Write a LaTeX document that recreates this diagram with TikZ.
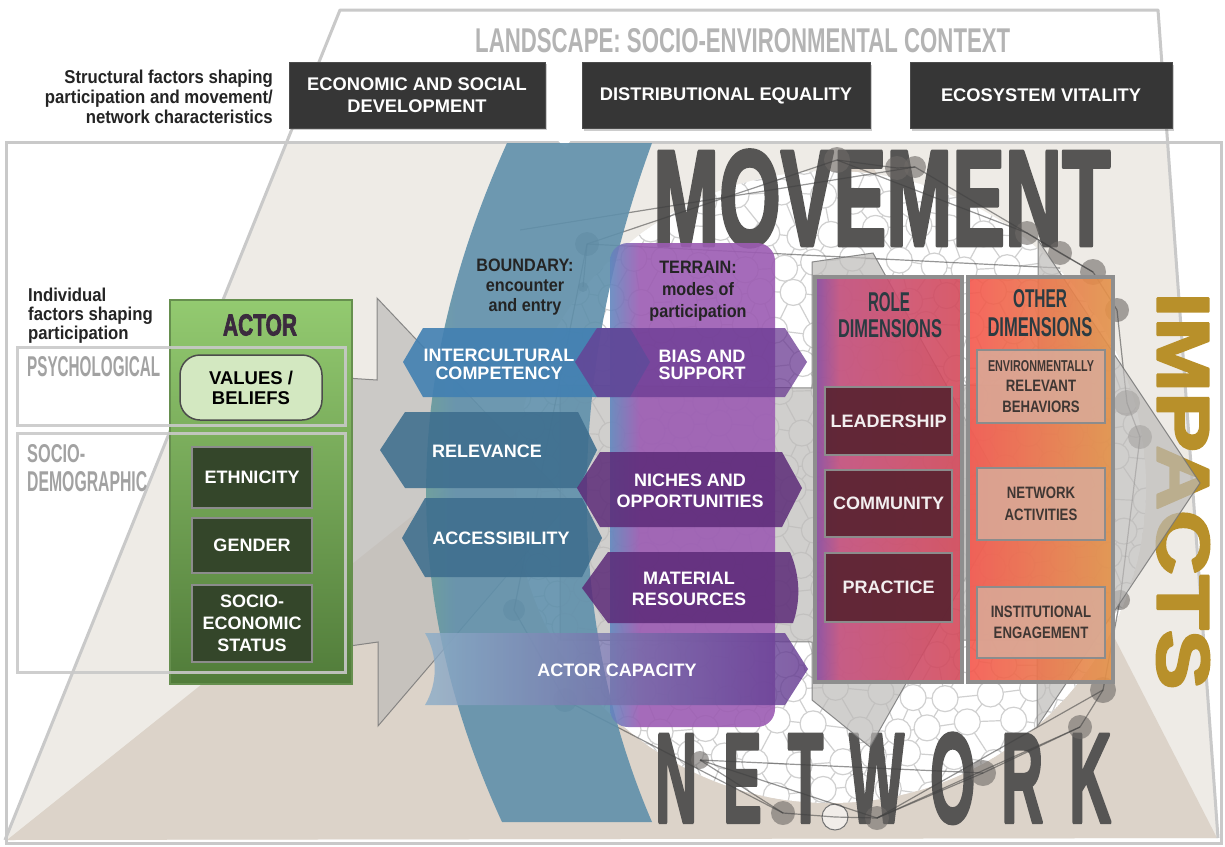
\documentclass[tikz,border=0pt]{standalone}
\usepackage{fontspec}
\usepackage{graphicx}
\setmainfont{Liberation Sans}
\newfontfamily\condfont[FakeStretch=0.9]{Liberation Sans}
\newfontfamily\narrowfont[FakeStretch=0.8]{Liberation Sans}
\newfontfamily\dispfont[FakeBold=3]{Liberation Sans}
\usetikzlibrary{shadows}

% poster-style stretched titles
\newcommand\dispbox[3]{\resizebox{#1}{#2}{\dispfont\bfseries #3}}
\newcommand\thinbox[3]{\resizebox{#1}{#2}{\bfseries #3}}

\definecolor{beige}{HTML}{EEEBE6}
\definecolor{tan}{HTML}{DCD3C9}
\definecolor{frame}{HTML}{C9C9C9}
\definecolor{hdr}{HTML}{363636}
\definecolor{landgray}{HTML}{B4B4B4}
\definecolor{headgray}{HTML}{565554}
\definecolor{gold}{HTML}{B8902A}
\definecolor{band}{HTML}{6090AB}
\definecolor{bandgreen}{HTML}{6BA58B}
\definecolor{tblue}{HTML}{6286BE}
\definecolor{tpurp}{HTML}{9C5CB3}
\definecolor{hexblue}{HTML}{4280B2}
\definecolor{hexsteel}{HTML}{3E6E8E}
\definecolor{hexpurp}{HTML}{5C2B78}
\definecolor{biaspurp}{HTML}{6A3A92}
\definecolor{capblue}{HTML}{8CAEC8}
\definecolor{cappurp}{HTML}{62358F}
\definecolor{rp1}{HTML}{8B4B9F}
\definecolor{rp2}{HTML}{C6517F}
\definecolor{rp3}{HTML}{D44B5B}
\definecolor{op1}{HTML}{F4574D}
\definecolor{op2}{HTML}{E3934A}
\definecolor{maroon}{HTML}{5A2331}
\definecolor{subtan}{HTML}{D9AB99}
\definecolor{boxgray}{HTML}{8E8E8E}
\definecolor{actortop}{HTML}{93CA70}
\definecolor{actorbot}{HTML}{517C3A}
\definecolor{actorline}{HTML}{668F4E}
\definecolor{valfill}{HTML}{D3E8C1}
\definecolor{darkgreen}{HTML}{34462A}
\definecolor{ink}{HTML}{242424}
\definecolor{dimink}{HTML}{2B3B42}
\definecolor{netgray}{HTML}{6E6A67}
\definecolor{arrowgray}{HTML}{BDBBB9}
\definecolor{meshgray}{HTML}{D0D0D0}
\definecolor{labelgray}{HTML}{A2A2A2}
\definecolor{actorink}{HTML}{3B2A3E}

\pgfdeclarehorizontalshading{terrainsh}{100bp}{color(0bp)=(tblue); color(25bp)=(tblue); color(34bp)=(tpurp); color(100bp)=(tpurp)}
\pgfdeclarehorizontalshading{bandsh}{100bp}{color(0bp)=(bandgreen); color(25bp)=(bandgreen); color(36bp)=(band); color(100bp)=(band)}
\pgfdeclarehorizontalshading{rolesh}{100bp}{color(0bp)=(rp1); color(25bp)=(rp1); color(33bp)=(rp2); color(75bp)=(rp3); color(100bp)=(rp3)}

\tikzset{
  declare function={mx(\i,\j)=495+38*\i+19*mod(\j,2)+6*sin(97*\i+57*\j);
                    my(\i,\j)=165+33*\j+6*cos(61*\i+113*\j);},
  mesh/.style={draw=meshgray, line width=1.2pt},
  hdrbox/.style={draw=black!70, line width=1pt, fill=hdr, text=white, align=center,
     inner sep=0, font=\fontsize{18.3}{22}\selectfont\bfseries,
     drop shadow={shadow xshift=1.5pt, shadow yshift=-2pt, opacity=.4}},
  lab/.style={inner sep=0, align=center, text=white, font=\fontsize{18}{18}\selectfont\bfseries},
  darklab/.style={inner sep=0, align=center, text=ink, font=\condfont\fontsize{18}{20}\selectfont\bfseries},
  sublab/.style={inner sep=0, align=center, text=ink, font=\narrowfont\fontsize{16.5}{20.5}\selectfont\bfseries},
  title/.style={inner sep=0, line join=round},
  netnode/.style={circle, fill=netgray, fill opacity=.6, inner sep=0, draw=none},
  netline/.style={draw=black!75, line width=1.2pt, draw opacity=.55},
  arrowfill/.style={fill=arrowgray, fill opacity=.7, draw=black!55, draw opacity=.8, line width=1pt},
  rolebox/.style={fill=maroon, fill opacity=.92, draw=black!45, line width=2.5pt},
  subbox/.style={fill=subtan, fill opacity=.85, draw=black!45, line width=2.5pt},
  greenbox/.style={fill=darkgreen, draw=black!45, line width=2.5pt},
}

\begin{document}
\begin{tikzpicture}[x=1pt,y=-1pt]
\useasboundingbox (0,0) rectangle (1225,846);
\fill[white] (0,0) rectangle (1225,846);

% landscape ground and the lower triangle
\begin{scope}
  \clip (6,142) rectangle (1221,843);
  \fill[beige] (340,10) -- (1158,10) -- (1218,838) -- (5,840) -- cycle;
  \fill[tan] (7,840) -- (866,153) -- (1217,838) -- cycle;
\end{scope}
\draw[frame, line width=3pt, line join=round] (5,840) -- (340,10) -- (1158,10) -- (1218,838);

% cell network disc
\begin{scope}
  \clip (830,487) circle[radius=316pt];
  \fill[white] (830,487) circle[radius=316pt];
  \foreach \j in {0,...,20} {
    \foreach \i in {-1,...,18} {
      \pgfmathtruncatemacro\a{\i-1+mod(\j,2)}
      \pgfmathtruncatemacro\b{\a+1}
      \pgfmathtruncatemacro\c{\i+1}
      \pgfmathtruncatemacro\jj{\j+1}
      \draw[mesh] ({mx(\c,\j)},{my(\c,\j)}) -- ({mx(\i,\j)},{my(\i,\j)})
                  -- ({mx(\a,\jj)},{my(\a,\jj)});
      \draw[mesh] ({mx(\i,\j)},{my(\i,\j)}) -- ({mx(\b,\jj)},{my(\b,\jj)});
    }
  }
  \foreach \j in {0,...,20} {
    \foreach \i in {-1,...,18} {
      \filldraw[mesh, fill=white] ({mx(\i,\j)},{my(\i,\j)}) circle[radius=13pt];
    }
  }
\end{scope}

% big titles
\node[title, anchor=north west, text=landgray] (landscape) at (475,28)
  {\thinbox{535pt}{24pt}{LANDSCAPE: SOCIO-ENVIRONMENTAL CONTEXT}};
\node[title, anchor=north west, text=headgray] (movement) at (653,150)
  {\dispbox{457pt}{95pt}{MOVEMENT}};
\node[title, anchor=north west, text=headgray] (network) at (655,733)
  {\dispbox{456pt}{89pt}{N\hspace{.45em}E\hspace{.45em}T\hspace{.45em}W\hspace{.45em}O\hspace{.45em}R\hspace{.45em}K}};
\node[title, rotate=-90, text=gold] (impacts) at (1183,491)
  {\dispbox{397pt}{52pt}{IMPACTS}};

% dark network of members
\foreach \n/\x/\y/\r in {na/587/244/12, nc/837/160/13, nd/897/168/12, ne/915/167/11,
    nf/1027/233/12, ng/1060/253/12, nh/1093/272/13, ni/1117/310/12, nj/1127/403/13,
    nk/1140/437/12, nv/1120/600/10, nl/1103/690/13, nm/1080/727/12, nn/983/773/13,
    no/877/818/12, nq/783/813/12, nr/565/700/12, ns/514/610/11, nt/583/287/5, nw/700/760/9}
  \node[netnode, minimum size=2*\r pt] (\n) at (\x,\y) {};
\node[circle, fill=white, fill opacity=.6, draw=black!55, line width=1pt, inner sep=0, minimum size=26pt] (np) at (835,817) {};
\coordinate (wl) at (520,230);
\coordinate (wr) at (1060,268);
\foreach \p/\q in {na/nc, nc/nd, nd/ne, ne/nf, nc/nf, nf/ng, ng/nh, nh/ni, ni/nj, nj/nk,
    nk/nv, nv/nl, nl/nm, nm/nn, nn/no, no/np, np/nq, no/nm, no/nl, nq/nr, nr/ns, ns/na,
    na/nt, wl/ne, na/wr, nw/no, nw/nn, nq/nw, nf/nh}
  \draw[netline] (\p.center) -- (\q.center);

% flow arrows
\path[arrowfill] (300,375) -- (377,380) -- (377,298) -- (570,502) -- (378,726)
   -- (378,642) -- (300,653) -- cycle;
\path[arrowfill] (560,385) -- (812,388) -- (812,262) -- (873,253) -- (1010,500)
   -- (870,747) -- (812,700) -- (812,642) -- (560,640) -- cycle;
\path[arrowfill] (960,385) -- (1038,385) -- (1038,240) -- (1200,483) -- (1037,727)
   -- (1037,640) -- (960,640) -- cycle;

% outer frame
\draw[frame, line width=3pt] (6,142) rectangle (1221,843);
\fill[white] (545,127) -- (581,127) -- (565,148) -- cycle;
\fill[white] (871,127) -- (911,127) -- (891,141) -- cycle;

% boundary band
\shade[shading=bandsh, fill opacity=.9] (507,143) .. controls (400,380) and (400,600) .. (502,822)
   -- (652,822) .. controls (565,620) and (565,380) .. (652,143) -- cycle;

% terrain column
\shade[shading=terrainsh, fill opacity=.9, rounded corners=18pt] (610,243) rectangle (775,727);

% boundary and terrain bands
\path[fill=hexblue, fill opacity=.9] (403,362) -- (423,328) -- (630,328) -- (650,362) -- (630,397) -- (423,397) -- cycle;
\path[fill=biaspurp, fill opacity=.75] (575,362) -- (597,328) -- (785,328) -- (807,362) -- (785,397) -- (597,397) -- cycle;
\path[fill=hexsteel, fill opacity=.88] (380,450) -- (405,412) -- (578,412) -- (597,450) -- (578,488) -- (405,488) -- cycle;
\path[fill=hexpurp, fill opacity=.85] (577,488) -- (600,452) -- (782,452) -- (802,488) -- (782,527) -- (600,527) -- cycle;
\path[fill=hexsteel, fill opacity=.88] (402,538) -- (425,498) -- (582,498) -- (602,538) -- (582,577) -- (425,577) -- cycle;
\path[fill=hexpurp, fill opacity=.85] (582,588) -- (608,552) -- (790,552) .. controls (800,575) and (801,600) .. (793,623) -- (608,623) -- cycle;
\shade[left color=capblue, right color=cappurp, fill opacity=.8] (425,633) .. controls (438,655) and (438,683) .. (425,705)
   -- (785,705) -- (808,669) -- (785,633) -- cycle;

\node[darklab] (boundary) at (525,287) {BOUNDARY:\\encounter\\and entry};
\node[darklab, font=\condfont\fontsize{18}{22}\selectfont\bfseries] (terrain) at (698,291) {TERRAIN:\\modes of\\participation};
\node[lab, font=\fontsize{18}{18}\selectfont\bfseries] (intercultural) at (499,364) {INTERCULTURAL\\COMPETENCY};
\node[lab, font=\fontsize{18}{17}\selectfont\bfseries] (bias) at (702,365) {BIAS AND\\SUPPORT};
\node[lab] (relevance) at (487,451) {RELEVANCE};
\node[lab, font=\fontsize{18}{21.5}\selectfont\bfseries] (niches) at (690,491) {NICHES AND\\OPPORTUNITIES};
\node[lab] (access) at (501,538.5) {ACCESSIBILITY};
\node[lab, font=\fontsize{18}{21.5}\selectfont\bfseries] (material) at (689,589) {MATERIAL\\RESOURCES};
\node[lab] (capacity) at (617,670) {ACTOR CAPACITY};

% role dimensions
\shade[shading=rolesh, fill opacity=.9] (817,279) rectangle (960,680);
\draw[boxgray, line width=3.5pt] (815,277) rectangle (962,682);
\node[inner sep=0, text=dimink] (role) at (889,302) {\thinbox{42pt}{19pt}{ROLE}};
\node[inner sep=0, text=dimink] (roledim) at (890,329) {\thinbox{104pt}{18pt}{DIMENSIONS}};
\node[rolebox, minimum width=127pt, minimum height=68pt, lab] (leader) at (888.5,421) {LEADERSHIP};
\node[rolebox, minimum width=127pt, minimum height=67pt, lab] (community) at (888.5,503.5) {COMMUNITY};
\node[rolebox, minimum width=127pt, minimum height=69pt, lab] (practice) at (888.5,587.5) {PRACTICE};

% other dimensions
\shade[left color=op1, right color=op2, fill opacity=.9] (970,278) rectangle (1112,681);
\draw[boxgray, line width=3.5pt] (968,277) rectangle (1113,682);
\node[inner sep=0, text=dimink] (other) at (1040,299) {\thinbox{54pt}{18pt}{OTHER}};
\node[inner sep=0, text=dimink] (otherdim) at (1040,327) {\thinbox{105pt}{19pt}{DIMENSIONS}};
\node[subbox, minimum width=128pt, minimum height=73pt, sublab] (env) at (1041,386.5)
  {\resizebox{106pt}{11pt}{ENVIRONMENTALLY}\\RELEVANT\\BEHAVIORS};
\node[subbox, minimum width=128pt, minimum height=72pt, sublab, font=\narrowfont\fontsize{16.5}{22}\selectfont\bfseries] (netact) at (1041,504) {NETWORK\\ACTIVITIES};
\node[subbox, minimum width=128pt, minimum height=71pt, sublab] (instit) at (1041,622.5) {INSTITUTIONAL\\ENGAGEMENT};

% actor column
\shade[top color=actortop, bottom color=actorbot] (170,300) rectangle (352,684);
\draw[actorline, line width=1.5pt] (170,300) rectangle (352,684);
\node[title, text=actorink] (actor) at (260,325) {\dispbox{74pt}{21pt}{ACTOR}};
\node[draw=black!70, line width=1.5pt, fill=valfill, rounded corners=20pt, minimum width=142pt,
      minimum height=65pt, inner sep=0, align=center, text=black,
      font=\fontsize{18.5}{20}\selectfont\bfseries] (values) at (251,387.5) {VALUES /\\BELIEFS};
\node[greenbox, minimum width=120pt, minimum height=61pt, lab] (ethnicity) at (252,477.5) {ETHNICITY};
\node[greenbox, minimum width=120pt, minimum height=55pt, lab] (gender) at (252,545.5) {GENDER};
\node[greenbox, minimum width=120pt, minimum height=77pt, lab, font=\fontsize{18}{22}\selectfont\bfseries] (ses) at (252,623.5) {SOCIO-\\ECONOMIC\\STATUS};

% individual factor groups
\draw[frame, line width=3pt, draw opacity=.9] (17,347) rectangle (345,425);
\draw[frame, line width=3pt, draw opacity=.9] (17,433) rectangle (345,672);
\node[anchor=west, inner sep=0, text=labelgray] (psych) at (27,367) {\thinbox{133pt}{20pt}{PSYCHOLOGICAL}};
\node[anchor=west, inner sep=0, text=labelgray] (socio) at (27,454) {\thinbox{58pt}{18pt}{SOCIO-}};
\node[anchor=west, inner sep=0, text=labelgray] (demog) at (27,482) {\thinbox{120pt}{20pt}{DEMOGRAPHIC}};
\node[anchor=west, inner sep=0, align=left, text=ink, font=\condfont\fontsize{18.6}{19}\selectfont\bfseries]
  (individual) at (28,315.4) {Individual\\factors shaping\\participation};

% structural factors
\node[anchor=east, inner sep=0, align=right, text=ink, font=\condfont\fontsize{18.6}{20}\selectfont\bfseries]
  (structural) at (273,96.5) {Structural factors shaping\\participation and movement/\\network characteristics};
\node[hdrbox, minimum width=256pt, minimum height=66pt] (econ) at (417,95) {ECONOMIC AND SOCIAL\\DEVELOPMENT};
\node[hdrbox, minimum width=288pt, minimum height=66pt] (distrib) at (726,95.5) {DISTRIBUTIONAL EQUALITY};
\node[hdrbox, minimum width=262pt, minimum height=66pt] (eco) at (1041,95.5) {ECOSYSTEM VITALITY};
\end{tikzpicture}
\end{document}
